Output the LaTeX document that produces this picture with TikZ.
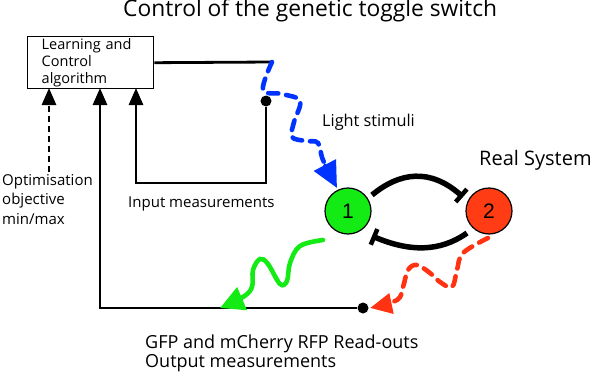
\documentclass[tikz,border=0pt]{standalone}
\usepackage{fontspec}
\setmainfont{Open Sans}
\newfontfamily\numfont{Liberation Sans}
\usetikzlibrary{arrows.meta}
\definecolor{lblue}{RGB}{0,51,255}
\definecolor{lgreen}{RGB}{20,235,20}
\definecolor{lred}{RGB}{255,51,17}
\definecolor{nred}{RGB}{255,60,20}
\begin{document}
\begin{tikzpicture}[x=1pt,y=-1pt,
  lbl/.style={inner sep=0pt,font=\fontsize{15}{19}\selectfont},
  conn/.style={line width=2.8pt},
  upar/.style={conn,-{Triangle[length=17pt,width=14pt]}},
  dotn/.style={circle,fill=black,inner sep=0pt,minimum size=11pt},
  gene/.style={circle,draw=black,line width=1.2pt,minimum size=46pt,inner sep=0pt,font=\numfont\fontsize{21}{21}\selectfont},
  inhib/.style={line width=5.5pt,-{Bar[width=17pt,line width=4.5pt]}},
  wave/.style={line width=4.6pt,line cap=round},
]
\useasboundingbox (0,0) rectangle (592,372);
% title
\node[lbl,anchor=west,font=\fontsize{22.8}{26}\selectfont] (title) at (123,11) {Control of the genetic toggle switch};
% box
\node[draw,line width=1.4pt,anchor=north west,minimum width=126pt,minimum height=52pt,
      text width=98pt,inner xsep=14pt,inner ysep=0pt,align=left,
      font=\fontsize{14.5}{17}\selectfont] (box) at (27,36) {Learning and\\Control\\algorithm};
% genes
\node[gene,fill=lgreen] (n1) at (348,211) {1};
\node[gene,fill=nred] (n2) at (489,211) {2};
% dots
\node[dotn] (d1) at (266,101) {};
\node[dotn] (d2) at (363,308) {};
% coordinates
\coordinate (c1) at (272,62);
\coordinate (inB) at (136,88);
\coordinate (outB) at (100,88);
\coordinate (optB) at (49,88);
\coordinate (optS) at (49,172);
% labels
\node[lbl,anchor=west,font=\fontsize{16.3}{20}\selectfont] (light) at (322,122) {Light stimuli};
\node[lbl,anchor=west,font=\fontsize{20}{24}\selectfont] (real) at (479,160) {Real System};
\node[lbl,anchor=west] (inp) at (128,204) {Input measurements};
\node[lbl,anchor=north west,align=left,font=\fontsize{15}{19.5}\selectfont] (opt) at (2,174) {Optimisation\\objective\\min/max};
\node[lbl,anchor=north west,align=left,font=\fontsize{18}{19}\selectfont] (gfp) at (145,335) {GFP and mCherry RFP Read-outs\\Output measurements};
% black connectors
\draw[conn] (box.east) -- (c1);
\draw[upar] (d1) -- ++(0,82) -| (inB);
\draw[upar] (d2) -| (outB);
\draw[upar,dashed,dash pattern=on 6pt off 4pt] (optS) -- (optB);
% inhibitions
\draw[inhib] (372,195) .. controls (400,172) and (430,168) .. (463,197);
\draw[inhib] (467,233) .. controls (440,252) and (410,252) .. (372,236);
% blue light
\draw[lblue,wave,dash pattern=on 10pt off 8pt,-{Triangle[length=26pt,width=24pt]}]
  plot[smooth,tension=0.6] coordinates {(c1) (263,90) (282,94) (300,101) (294,122) (292,137) (306,141) (318,143) (323,160) (337,188)};
% green readout
\draw[lgreen,wave,-{Triangle[length=24pt,width=24pt]}]
  plot[smooth,tension=0.6] coordinates {(323,240) (300,246) (290,263) (287,281) (280,284) (268,264) (260,259) (253,270) (252,287) (243,297) (220,308)};
% red readout
\draw[lred,wave,dash pattern=on 10pt off 8pt,-{Triangle[length=22pt,width=20pt]}]
  plot[smooth,tension=0.6] coordinates {(488,238) (463,253) (457,270) (452,287) (440,282) (430,273) (417,265) (408,270) (403,287) (397,300) (370,308)};
\end{tikzpicture}
\end{document}
